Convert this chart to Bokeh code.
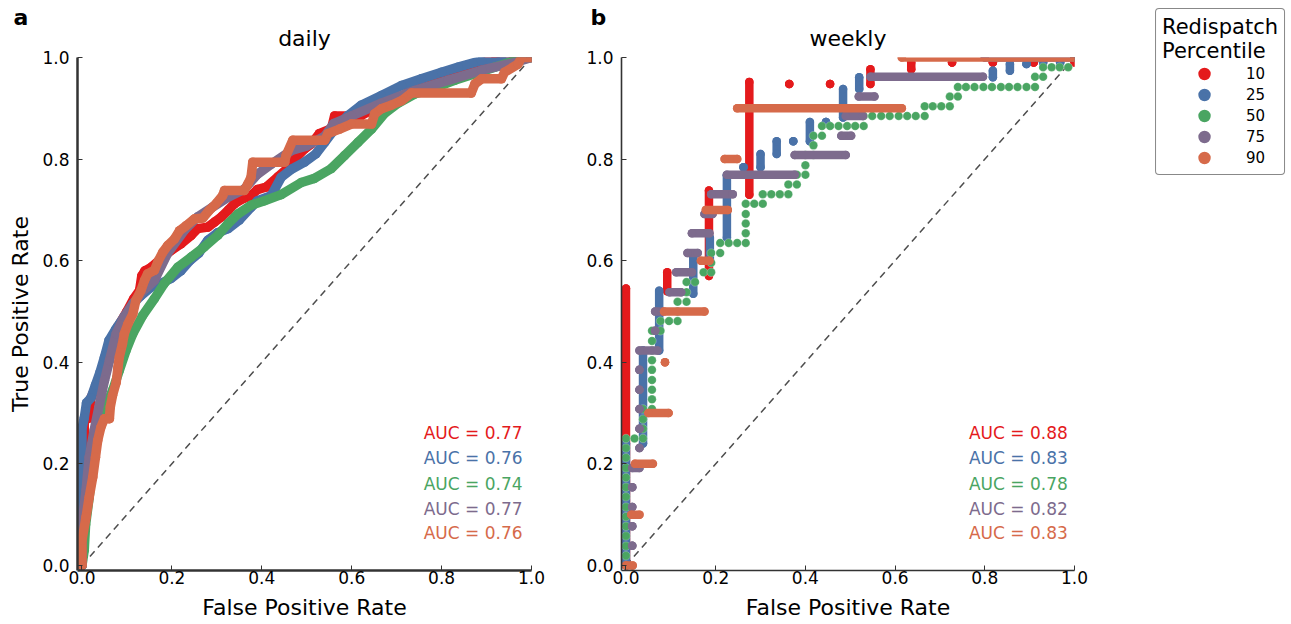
from bokeh.plotting import figure
from bokeh.layouts import row
from bokeh.models import FixedTicker, Range1d, Label, Legend, LegendItem, PrintfTickFormatter, Title
from bokeh.embed import file_html
from bokeh.resources import INLINE

FONT = "DejaVu Sans"

percentiles = ["10", "25", "50", "75", "90"]
colors = ["#e41a1c", "#4a72a8", "#4aa562", "#7d6b8d", "#d66a4a"]
auc_daily = ["0.77", "0.76", "0.74", "0.77", "0.76"]
auc_weekly = ["0.88", "0.83", "0.78", "0.82", "0.83"]
tick_values = [0.0, 0.2, 0.4, 0.6, 0.8, 1.0]

# ---------------- daily ROC curves (FPR, TPR) ----------------
daily_fpr_10 = [0, 0, 0, 0.005, 0.005, 0.015, 0.02, 0.03, 0.045, 0.055, 0.065, 0.08, 0.1, 0.115, 0.128,
                0.133, 0.14, 0.154, 0.18, 0.198, 0.22, 0.243, 0.257, 0.28, 0.295, 0.31, 0.325, 0.339, 0.358,
                0.376, 0.39, 0.41, 0.436, 0.455, 0.473, 0.495, 0.51, 0.528, 0.555, 0.562, 0.62, 0.64, 0.67,
                0.7, 0.73, 0.76, 0.81, 0.87, 0.92, 0.96, 1.0]
daily_tpr_10 = [0, 0.12, 0.22, 0.23, 0.285, 0.29, 0.33, 0.35, 0.385, 0.42, 0.445, 0.47, 0.5, 0.525, 0.541,
                0.57, 0.58, 0.587, 0.607, 0.62, 0.633, 0.65, 0.663, 0.666, 0.676, 0.686, 0.699, 0.712, 0.722,
                0.728, 0.74, 0.745, 0.765, 0.78, 0.8, 0.82, 0.83, 0.85, 0.86, 0.885, 0.885, 0.895, 0.905,
                0.915, 0.935, 0.952, 0.972, 0.986, 0.996, 1.0, 1.0]

daily_fpr_25 = [0, 0, 0, 0.005, 0.01, 0.02, 0.03, 0.04, 0.05, 0.06, 0.075, 0.094, 0.113, 0.13, 0.154, 0.168,
                0.198, 0.22, 0.24, 0.26, 0.28, 0.302, 0.325, 0.35, 0.376, 0.391, 0.421, 0.443, 0.466, 0.495,
                0.52, 0.54, 0.562, 0.592, 0.621, 0.666, 0.711, 0.755, 0.8, 0.837, 0.889, 0.933, 1.0]
daily_tpr_25 = [0, 0.1, 0.27, 0.29, 0.32, 0.33, 0.355, 0.38, 0.41, 0.443, 0.465, 0.49, 0.515, 0.53, 0.548,
                0.552, 0.565, 0.58, 0.6, 0.615, 0.64, 0.655, 0.663, 0.68, 0.705, 0.718, 0.728, 0.764, 0.78,
                0.794, 0.81, 0.833, 0.859, 0.886, 0.906, 0.925, 0.945, 0.958, 0.971, 0.981, 0.994, 1.0, 1.0]

daily_fpr_50 = [0, 0.005, 0.008, 0.016, 0.024, 0.035, 0.046, 0.068, 0.083, 0.098, 0.113, 0.135, 0.161,
                0.183, 0.213, 0.243, 0.272, 0.302, 0.325, 0.347, 0.376, 0.406, 0.443, 0.488, 0.517, 0.554,
                0.584, 0.614, 0.644, 0.673, 0.703, 0.74, 0.777, 0.829, 0.874, 0.918, 0.963, 1.0]
daily_tpr_50 = [0, 0.03, 0.08, 0.134, 0.2, 0.253, 0.3, 0.344, 0.384, 0.423, 0.456, 0.492, 0.525, 0.555,
                0.587, 0.607, 0.627, 0.65, 0.673, 0.692, 0.709, 0.718, 0.73, 0.754, 0.762, 0.781, 0.807,
                0.833, 0.859, 0.89, 0.91, 0.928, 0.938, 0.955, 0.968, 0.981, 0.994, 1.0]

daily_fpr_75 = [0, 0, 0.009, 0.016, 0.027, 0.039, 0.05, 0.061, 0.076, 0.094, 0.113, 0.135, 0.161, 0.19,
                0.228, 0.257, 0.29, 0.325, 0.36, 0.39, 0.421, 0.466, 0.5, 0.54, 0.56, 0.6, 0.666, 0.74,
                0.814, 0.889, 0.963, 1.0]
daily_tpr_75 = [0, 0.08, 0.148, 0.213, 0.266, 0.318, 0.364, 0.403, 0.456, 0.49, 0.515, 0.54, 0.561, 0.614,
                0.66, 0.686, 0.705, 0.725, 0.74, 0.77, 0.79, 0.817, 0.826, 0.845, 0.87, 0.885, 0.91, 0.935,
                0.955, 0.975, 0.99, 1.0]

daily_fpr_90 = [0, 0, 0.009, 0.016, 0.024, 0.03, 0.035, 0.042, 0.05, 0.061, 0.063, 0.068, 0.076, 0.08,
                0.083, 0.09, 0.094, 0.102, 0.113, 0.12, 0.131, 0.139, 0.146, 0.161, 0.17, 0.18, 0.191, 0.206,
                0.217, 0.232, 0.25, 0.269, 0.283, 0.298, 0.313, 0.317, 0.361, 0.369, 0.376, 0.38, 0.451,
                0.454, 0.469, 0.54, 0.547, 0.573, 0.599, 0.644, 0.651, 0.666, 0.688, 0.711, 0.733, 0.866,
                0.874, 0.889, 0.933, 0.94, 0.97, 0.978, 1.0]
daily_tpr_90 = [0, 0.05, 0.095, 0.134, 0.174, 0.213, 0.246, 0.272, 0.289, 0.289, 0.312, 0.335, 0.36, 0.39,
                0.41, 0.436, 0.456, 0.475, 0.495, 0.522, 0.541, 0.561, 0.574, 0.581, 0.6, 0.617, 0.63, 0.643,
                0.659, 0.669, 0.682, 0.684, 0.699, 0.712, 0.728, 0.738, 0.738, 0.751, 0.764, 0.794, 0.794,
                0.807, 0.837, 0.837, 0.85, 0.859, 0.869, 0.869, 0.889, 0.899, 0.906, 0.915, 0.93, 0.93,
                0.948, 0.958, 0.958, 0.971, 0.987, 1.0, 1.0]

# ---------------- weekly ROC points ----------------
# 10th and 25th percentile: vertical runs of points (FPR, TPR from, TPR to)
weekly_10_fpr = [0.0, 0.092, 0.185, 0.275, 0.364, 0.455, 0.545, 0.636, 0.727, 0.818, 0.909, 1.0]
weekly_10_lo = [0.0, 0.54, 0.57, 0.73, 0.948, 0.948, 0.948, 0.977, 0.99, 0.99, 0.99, 0.99]
weekly_10_hi = [0.545, 0.577, 0.738, 0.952, 0.948, 0.948, 0.977, 0.99, 0.99, 0.99, 0.99, 1.0]

weekly_25_fpr = [0.0, 0.038, 0.074, 0.15, 0.187, 0.225, 0.262, 0.3, 0.336, 0.373, 0.41, 0.446, 0.484,
                 0.52, 0.818, 0.856, 0.893, 0.93, 0.968, 1.0]
weekly_25_lo = [0.0, 0.24, 0.423, 0.535, 0.6, 0.645, 0.784, 0.784, 0.81, 0.835, 0.835, 0.873, 0.882,
                0.938, 0.961, 0.974, 0.987, 0.99, 0.99, 1.0]
weekly_25_hi = [0.24, 0.423, 0.541, 0.607, 0.645, 0.768, 0.784, 0.81, 0.835, 0.835, 0.873, 0.873, 0.938,
                0.961, 0.974, 0.987, 0.987, 0.99, 0.99, 1.0]

# 50th percentile: individual points
weekly_50_fpr = [0, 0, 0, 0, 0, 0, 0, 0, 0, 0, 0, 0, 0, 0, 0.019, 0.038, 0.038, 0.038, 0.038,
                 0.058, 0.058, 0.058, 0.058, 0.058, 0.058, 0.058, 0.058, 0.058, 0.077, 0.077, 0.096,
                 0.115, 0.115, 0.115, 0.135, 0.135, 0.135, 0.154, 0.173, 0.19, 0.19, 0.19, 0.21, 0.21,
                 0.229, 0.248, 0.267, 0.267, 0.267, 0.267, 0.267, 0.286, 0.305, 0.305, 0.324, 0.343,
                 0.362, 0.362, 0.381, 0.381, 0.4, 0.4, 0.4, 0.418, 0.418, 0.418, 0.437, 0.437, 0.455,
                 0.474, 0.493, 0.511, 0.53, 0.53, 0.549, 0.569, 0.588, 0.608, 0.627, 0.646, 0.666,
                 0.666, 0.684, 0.703, 0.722, 0.722, 0.74, 0.74, 0.758, 0.777, 0.797, 0.816, 0.836,
                 0.854, 0.873, 0.893, 0.912, 0.912, 0.93, 0.93, 0.949, 0.967, 0.986, 1.0]
weekly_50_tpr = [0, 0.019, 0.038, 0.058, 0.077, 0.096, 0.115, 0.135, 0.154, 0.173, 0.192, 0.212, 0.231,
                 0.25, 0.25, 0.25, 0.269, 0.288, 0.308, 0.308, 0.327, 0.346, 0.365, 0.385, 0.404, 0.423,
                 0.442, 0.462, 0.462, 0.481, 0.481, 0.481, 0.5, 0.519, 0.519, 0.538, 0.558, 0.558, 0.577,
                 0.577, 0.596, 0.615, 0.615, 0.635, 0.635, 0.635, 0.635, 0.654, 0.673, 0.692, 0.712,
                 0.712, 0.712, 0.731, 0.731, 0.731, 0.731, 0.75, 0.75, 0.769, 0.769, 0.788, 0.808, 0.808,
                 0.827, 0.846, 0.846, 0.865, 0.865, 0.865, 0.865, 0.865, 0.865, 0.885, 0.885, 0.885,
                 0.885, 0.885, 0.885, 0.885, 0.885, 0.904, 0.904, 0.904, 0.904, 0.923, 0.923, 0.942,
                 0.942, 0.942, 0.942, 0.942, 0.942, 0.942, 0.942, 0.942, 0.942, 0.962, 0.962, 0.981,
                 0.981, 0.981, 0.981, 1.0]

# 75th and 90th percentile: horizontal runs of points (TPR, FPR from, FPR to)
weekly_75_tpr = [0.0, 0.0385, 0.077, 0.115, 0.154, 0.192, 0.231, 0.269, 0.308, 0.346, 0.385, 0.423, 0.462,
                 0.5, 0.538, 0.577, 0.615, 0.654, 0.692, 0.731, 0.769, 0.808, 0.846, 0.885, 0.923, 0.962, 1.0]
weekly_75_from = [0.0, 0.014, 0.014, 0.014, 0.014, 0.014, 0.03, 0.03, 0.03, 0.03, 0.03, 0.03, 0.065,
                  0.065, 0.097, 0.112, 0.137, 0.147, 0.175, 0.19, 0.225, 0.376, 0.48, 0.49, 0.519, 0.545, 0.8]
weekly_75_to = [0.0, 0.014, 0.014, 0.014, 0.014, 0.03, 0.03, 0.03, 0.03, 0.03, 0.03, 0.07, 0.065,
                0.08, 0.123, 0.147, 0.16, 0.186, 0.193, 0.238, 0.376, 0.49, 0.502, 0.528, 0.554, 0.796, 1.0]

weekly_90_tpr = [0.0, 0.1, 0.2, 0.3, 0.4, 0.5, 0.6, 0.7, 0.8, 0.9, 1.0]
weekly_90_from = [0.0, 0.012, 0.02, 0.05, 0.087, 0.085, 0.167, 0.178, 0.22, 0.248, 0.615]
weekly_90_to = [0.015, 0.03, 0.06, 0.095, 0.087, 0.175, 0.186, 0.227, 0.248, 0.615, 1.0]

# text positions (data units) for the AUC annotations
auc_x_daily = 0.98
auc_x_weekly = 0.985
auc_y = [0.26, 0.211, 0.161, 0.112, 0.063]

DOT_D = 9.5
DOT_W = 8.5
NAN = float("nan")


def base_fig(width, border_left, border_right, spine_w, title, letter, letter_offset, ylabel=None):
    p = figure(width=width, height=624, x_range=Range1d(-0.01, 1.0), y_range=Range1d(-0.01, 1.0),
               output_backend="svg", toolbar_location=None, title=letter,
               min_border_left=border_left, min_border_right=border_right,
               min_border_top=57, min_border_bottom=54)
    # outer title: panel letter
    p.title.text_font = FONT
    p.title.text_font_size = "22px"
    p.title.text_font_style = "bold"
    p.title.text_color = "black"
    p.title.align = "left"
    p.title.offset = letter_offset
    p.title.standoff = -26
    # inner title: panel name
    p.add_layout(Title(text=title, align="center", standoff=14, text_font=FONT, text_font_size="22px",
                       text_font_style="normal", text_color="black"), "above")
    p.outline_line_color = None
    p.grid.visible = False
    p.background_fill_color = "white"
    p.border_fill_color = "white"
    for ax in (p.xaxis[0], p.yaxis[0]):
        ax.ticker = FixedTicker(ticks=tick_values)
        ax.formatter = PrintfTickFormatter(format="%.1f")
        ax.major_tick_in = 5
        ax.major_tick_out = 0
        ax.minor_tick_line_color = None
        ax.axis_line_width = spine_w
        ax.axis_line_color = "#333333"
        ax.major_tick_line_color = "#333333"
        ax.major_tick_line_width = 1
        ax.major_label_text_font = FONT
        ax.major_label_text_font_size = "17px"
        ax.major_label_text_color = "black"
        ax.axis_label_text_font = FONT
        ax.axis_label_text_font_size = "22px"
        ax.axis_label_text_font_style = "normal"
        ax.axis_label_text_color = "black"
    p.xaxis.major_label_standoff = 0
    p.yaxis.major_label_standoff = 8
    p.xaxis.axis_label = "False Positive Rate"
    p.xaxis.axis_label_standoff = 8
    if ylabel:
        p.yaxis.axis_label = ylabel
        p.yaxis.axis_label_standoff = 6
    p.line([0, 1], [0, 1], line_color="#4d4d4d", line_width=1.5, line_dash="7 5")
    return p


def add_auc(p, x, aucs):
    for yy, a, c in zip(auc_y, aucs, colors):
        p.add_layout(Label(x=x, y=yy, text="AUC = " + a, text_color=c, text_font=FONT,
                           text_font_size="17px", text_align="right", text_baseline="middle"))


# ---------------- panel a: daily ----------------
pa = base_fig(563, 77, 32, 2.5, "daily", "a", -64, ylabel="True Positive Rate")
daily = [(daily_fpr_10, daily_tpr_10), (daily_fpr_25, daily_tpr_25), (daily_fpr_50, daily_tpr_50),
         (daily_fpr_75, daily_tpr_75), (daily_fpr_90, daily_tpr_90)]
for (fx, fy), c in zip(daily, colors):
    pa.line(fx, fy, line_color=c, line_width=DOT_D, line_join="round", line_cap="round")
    pa.scatter(fx, fy, size=DOT_D, fill_color=c, line_color=None)
add_auc(pa, auc_x_daily, auc_daily)

# ---------------- panel b: weekly ----------------
pb = base_fig(530, 58, 19, 1.6, "weekly", "b", -31)
for fx, lo, hi, c in [(weekly_10_fpr, weekly_10_lo, weekly_10_hi, colors[0]),
                      (weekly_25_fpr, weekly_25_lo, weekly_25_hi, colors[1])]:
    pb.segment(x0=fx, y0=lo, x1=fx, y1=hi, line_color=c, line_width=DOT_W, line_cap="round")
    pb.scatter(fx + fx, lo + hi, size=DOT_W, fill_color=c, line_color=None)
pb.scatter(weekly_50_fpr, weekly_50_tpr, size=DOT_W, fill_color=colors[2], line_color="white",
           line_alpha=0.4, line_width=0.6)
for ty, x0, x1, c in [(weekly_75_tpr, weekly_75_from, weekly_75_to, colors[3]),
                      (weekly_90_tpr, weekly_90_from, weekly_90_to, colors[4])]:
    pb.segment(x0=x0, y0=ty, x1=x1, y1=ty, line_color=c, line_width=DOT_W, line_cap="round")
    pb.scatter(x0 + x1, ty + ty, size=DOT_W, fill_color=c, line_color=None)
add_auc(pb, auc_x_weekly, auc_weekly)

# ---------------- legend panel ----------------
pl = figure(width=198, height=195, x_range=Range1d(0, 1), y_range=Range1d(0, 1), title=None,
            output_backend="svg", toolbar_location=None, min_border=0, min_border_top=2,
            x_axis_location=None, y_axis_location=None)
pl.frame_align = False
pl.grid.visible = False
pl.outline_line_color = None
items = []
for lab, c in zip(percentiles, colors):
    r = pl.scatter(x=[NAN], y=[NAN], size=13, fill_color=c, line_color=c, line_width=4)
    items.append(LegendItem(label=lab, renderers=[r]))
leg = Legend(items=items, location="top_right", title="Redispatch\nPercentile")
leg.title_text_font = FONT
leg.title_text_font_size = "21px"
leg.title_text_font_style = "normal"
leg.title_text_color = "black"
leg.title_text_line_height = 1.05
leg.label_text_font = FONT
leg.label_text_font_size = "15px"
leg.label_text_color = "black"
leg.label_text_align = "right"
leg.glyph_width = 84
leg.glyph_height = 21
leg.label_standoff = 0
leg.spacing = 0
leg.padding = 6
leg.margin = 6
leg.title_standoff = 0
leg.border_line_color = "#111111"
leg.border_line_width = 1.6
leg.background_fill_alpha = 1.0
if "border_radius" in leg.properties():
    leg.border_radius = 4
pl.add_layout(leg)

layout = row(pa, pb, pl)
open("out.html", "w").write(file_html(layout, INLINE))
